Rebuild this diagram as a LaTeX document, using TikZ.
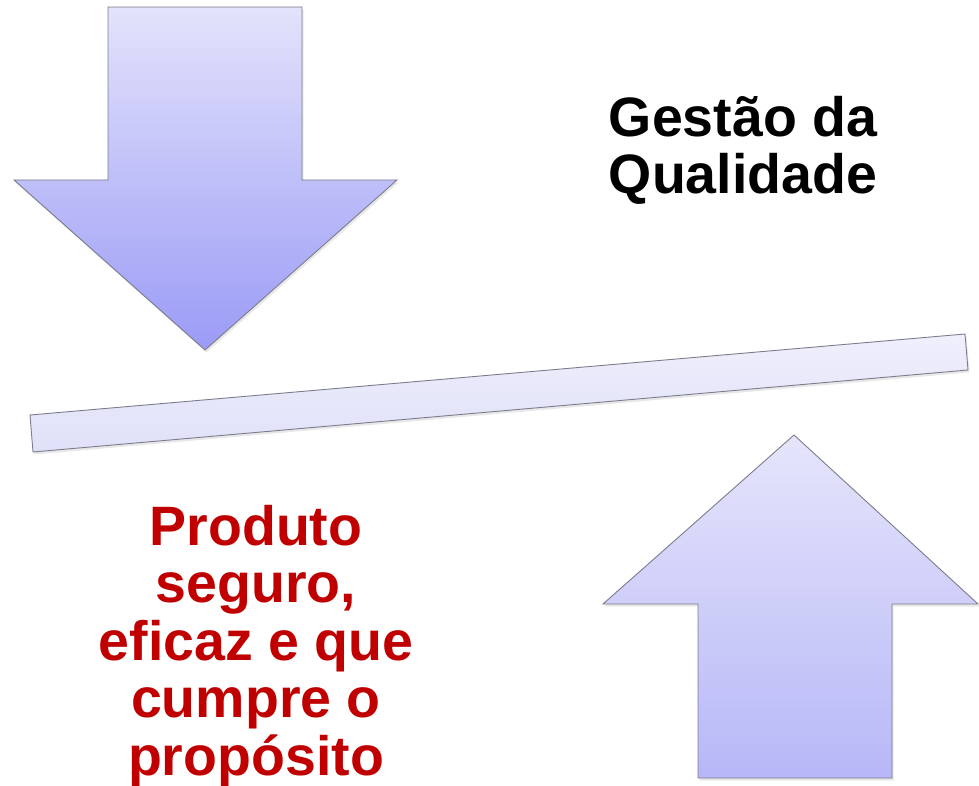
\documentclass[tikz,border=0pt]{standalone}
\usepackage{fontspec}
\setmainfont{Liberation Sans}
\usetikzlibrary{shadows}
\definecolor{edge}{HTML}{7C7C8C}
\definecolor{dtop}{HTML}{E3E3FB}
\definecolor{dbot}{HTML}{9B9BF7}
\definecolor{utop}{HTML}{E5E5FB}
\definecolor{ubot}{HTML}{B7B7F8}
\definecolor{btop}{HTML}{EFEFFC}
\definecolor{bbot}{HTML}{E0E0F9}
\definecolor{redtxt}{HTML}{C00000}
\tikzset{
  arrowshape/.style={draw=edge, line width=0.9pt, line join=miter,
    drop shadow={opacity=0.18, shadow xshift=1.5pt, shadow yshift=-2.5pt}},
  bigtext/.style={font=\bfseries\fontsize{55.5}{57.5}\selectfont, align=center, anchor=base, inner sep=0pt}
}
\begin{document}
\begin{tikzpicture}[x=1pt,y=-1pt]
\useasboundingbox (0,0) rectangle (979,786);
% down arrow
\path[arrowshape, top color=dtop, bottom color=dbot]
  (108,7) -- (302,7) -- (302,180) -- (397,180) -- (205,350) -- (14,180) -- (108,180) -- cycle;
% bar
\path[arrowshape, top color=btop, bottom color=bbot]
  (30,415) -- (965,334) -- (968,370) -- (33,452) -- cycle;
% up arrow
\path[arrowshape, top color=utop, bottom color=ubot]
  (794,435) -- (978,604) -- (892,604) -- (892,778) -- (698,778) -- (698,604) -- (603,604) -- cycle;
% texts
\node[bigtext, text=black] (gq) at (743,194) {Gestão da\\Qualidade};
\node[bigtext, text=redtxt] (ps) at (256,775) {Produto\\seguro,\\eficaz e que\\cumpre o\\propósito};
\end{tikzpicture}
\end{document}
